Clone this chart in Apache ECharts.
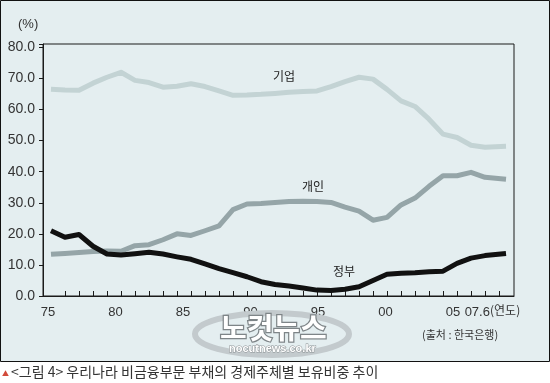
<!DOCTYPE html>
<html>
<head>
<meta charset="utf-8">
<script src="https://cdn.jsdelivr.net/npm/echarts@6/dist/echarts.min.js"></script>
<style>
html,body{margin:0;padding:0;background:#fff;}
#chart{width:550px;height:383px;}
</style>
</head>
<body>
<div id="chart"></div>
<script>
// ---- data (shares, %) ----
var years = [1975,1976,1977,1978,1979,1980,1981,1982,1983,1984,1985,1986,1987,1988,1989,1990,1991,1992,1993,1994,1995,1996,1997,1998,1999,2000,2001,2002,2003,2004,2005,2006,2007.5];
var corporate = [66.5,66.3,66.2,68.5,70.4,72.0,69.4,68.7,67.2,67.5,68.3,67.4,66.0,64.6,64.7,64.9,65.2,65.6,65.8,66.0,67.4,69.0,70.4,69.8,66.5,62.8,61.0,56.9,52.1,51.0,48.5,47.9,48.2];
var household = [13.4,13.7,14.0,14.3,14.5,14.4,16.2,16.5,18.1,20.0,19.5,21.0,22.6,27.8,29.6,29.8,30.1,30.4,30.5,30.4,30.1,28.6,27.3,24.4,25.3,29.3,31.5,35.3,38.7,38.7,39.8,38.2,37.6];
var government = [21.0,18.9,19.8,16.0,13.5,13.2,13.6,14.1,13.5,12.6,11.8,10.3,8.8,7.5,6.2,4.6,3.7,3.2,2.6,1.9,1.8,2.2,3.0,5.0,7.0,7.3,7.5,7.8,8.0,10.5,12.2,13.0,13.7];
var seriesNames = ['기업','개인','정부'];
var xTickLabels = ['75','80','85','90','95','00','05','07.6'];
var xTickLabelValues = [1975,1980,1985,1990,1995,2000,2005,2006.8];
var yearTicks = [];
for (var y = 1976; y <= 2007; y++) yearTicks.push(y);

function pairs(vals){ return vals.map(function(v,i){ return [years[i], v]; }); }
function xLabel(v){
  for (var i = 0; i < xTickLabelValues.length; i++) {
    if (Math.abs(xTickLabelValues[i] - v) < 0.01) return xTickLabels[i];
  }
  return '';
}

var font = "'Liberation Sans Narrow','Liberation Sans',Arial,sans-serif";
var kfont = "'Noto Sans CJK KR','Noto Sans',sans-serif";

var chart = echarts.init(document.getElementById('chart'), null, {renderer:'canvas'});
chart.setOption({
  backgroundColor: '#ffffff',
  animation: false,
  grid: {left: 43, right: 36, top: 44, bottom: 87, show: true, borderColor: '#1a1a1a', borderWidth: 1, backgroundColor: 'transparent'},
  xAxis: [{
    type: 'value', min: 1974.43, max: 2008.07, position: 'bottom',
    axisLine: {show: true, lineStyle: {color: '#1a1a1a', width: 1}},
    axisTick: {show: true, inside: true, length: 5, customValues: yearTicks, lineStyle: {color: '#1a1a1a'}},
    axisLabel: {show: false},
    splitLine: {show: false}
  },{
    type: 'value', min: 1974.63, max: 2009.52, position: 'bottom',
    axisLine: {show: false}, axisTick: {show: false}, splitLine: {show: false},
    axisLabel: {
      show: true, customValues: xTickLabelValues, margin: 10, hideOverlap: false,
      showMinLabel: true, showMaxLabel: true,
      fontFamily: font, fontSize: 13, color: '#333',
      formatter: xLabel
    }
  }],
  yAxis: {
    type: 'value', min: 0, max: 81.1, interval: 10,
    axisLine: {show: true, lineStyle: {color: '#1a1a1a', width: 1}},
    axisTick: {show: true, inside: false, length: 4, lineStyle: {color: '#1a1a1a'}},
    splitLine: {show: false},
    axisLabel: {
      margin: 8, fontFamily: font, fontSize: 14, color: '#333',
      formatter: function(v){ return (Math.abs(v % 10) < 1e-6) ? v.toFixed(1) : ''; }
    }
  },
  series: [
    {name: seriesNames[0], type: 'line', xAxisIndex: 0, data: pairs(corporate), showSymbol: false, symbol: 'none',
     lineStyle: {color: '#c3d3d4', width: 5, join: 'round'}, z: 3},
    {name: seriesNames[1], type: 'line', xAxisIndex: 0, data: pairs(household), showSymbol: false, symbol: 'none',
     lineStyle: {color: '#95a5a8', width: 5, join: 'round'}, z: 4},
    {name: seriesNames[2], type: 'line', xAxisIndex: 0, data: pairs(government), showSymbol: false, symbol: 'none',
     lineStyle: {color: '#111111', width: 5, join: 'round'}, z: 5}
  ],
  graphic: [
    {type: 'rect', z: -100, silent: true, shape: {x: 0.5, y: 0.5, width: 549, height: 361}, style: {fill: '#e4eef0', stroke: '#111', lineWidth: 1}},
    {type: 'text', x: 18, y: 18, style: {text: '(%)', font: '13px ' + font, fill: '#333'}},
    {type: 'text', x: 490, y: 304, style: {text: '(연도)', font: '12px ' + kfont, fill: '#333'}},
    {type: 'text', x: 273, y: 70, style: {text: seriesNames[0], font: '12px ' + kfont, fill: '#222'}},
    {type: 'text', x: 302, y: 180, style: {text: seriesNames[1], font: '12px ' + kfont, fill: '#222'}},
    {type: 'text', x: 333, y: 265, style: {text: seriesNames[2], font: '12px ' + kfont, fill: '#222'}},
    {type: 'text', x: 422, y: 329, style: {text: '(출처 : 한국은행)', font: '11px ' + kfont, fill: '#333'}},
    {type: 'ellipse', z: 1, silent: true, shape: {cx: 272, cy: 334, rx: 77, ry: 21}, style: {fill: 'none', stroke: '#c3cacd', lineWidth: 6}},
    {type: 'text', z: 2, x: 220, y: 313, style: {text: '노컷뉴스', font: 'bold 29px ' + kfont, fill: '#ffffff', stroke: '#7e8588', lineWidth: 2.5}},
    {type: 'text', z: 2, x: 229, y: 343, style: {text: 'nocutnews.co.kr', font: 'bold 11px Arial, sans-serif', fill: '#ffffff', stroke: '#8a8f92', lineWidth: 1}},
    {type: 'text', x: 2, y: 370, style: {text: '▲', font: '7px ' + kfont, fill: '#d24a3a'}},
    {type: 'text', x: 11, y: 365, style: {text: '<그림 4> 우리나라 비금융부문 부채의 경제주체별 보유비중 추이', font: '14px ' + kfont, fill: '#333'}}
  ]
});
</script>
</body>
</html>
